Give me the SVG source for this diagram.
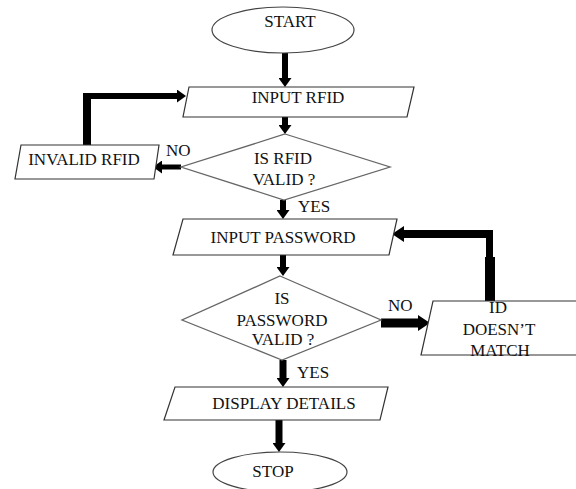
<svg xmlns="http://www.w3.org/2000/svg" width="576" height="489" viewBox="0 0 576 489">
  <style>
    .txt { font-family: "Liberation Serif", "Times New Roman", serif; font-size: 17px; fill: #111; }
    .mid { text-anchor: middle; }
    .term { fill: #fff; stroke: #444; stroke-width: 1.2; }
    .io { fill: #fff; stroke: #333; stroke-width: 1.2; }
    .dec { fill: #fff; stroke: #666; stroke-width: 1.3; }
    .flow { stroke: #000; fill: none; stroke-linecap: butt; }
  </style>
  <defs>
    <marker id="head" viewBox="0 0 9 13" refX="0" refY="6.5" markerWidth="9" markerHeight="13" markerUnits="userSpaceOnUse" orient="auto">
      <path d="M0,0 L9,6.5 L0,13 Z" fill="#000"/>
    </marker>
    <marker id="headBig" viewBox="0 0 12 16" refX="0" refY="8" markerWidth="12" markerHeight="16" markerUnits="userSpaceOnUse" orient="auto">
      <path d="M0,0 L12,8 L0,16 Z" fill="#000"/>
    </marker>
  </defs>

  <!-- connectors -->
  <g id="connectors">
    <line class="flow" x1="285" y1="53" x2="285" y2="78" stroke-width="6" marker-end="url(#head)"/>
    <line class="flow" x1="285" y1="117" x2="285" y2="125" stroke-width="6" marker-end="url(#head)"/>
    <line class="flow" x1="181" y1="167" x2="162" y2="167" stroke-width="5" marker-end="url(#head)"/>
    <line class="flow" x1="87" y1="145" x2="87" y2="93" stroke-width="8"/>
    <line class="flow" x1="83" y1="96" x2="177" y2="96" stroke-width="6" marker-end="url(#head)"/>
    <line class="flow" x1="283" y1="200" x2="283" y2="210" stroke-width="6" marker-end="url(#head)"/>
    <line class="flow" x1="283" y1="255" x2="283" y2="267" stroke-width="6" marker-end="url(#head)"/>
    <line class="flow" x1="381" y1="323" x2="418" y2="323" stroke-width="9" marker-end="url(#headBig)"/>
    <line class="flow" x1="490" y1="301" x2="490" y2="257" stroke-width="10"/>
    <line class="flow" x1="489.5" y1="258" x2="489.5" y2="230" stroke-width="7"/>
    <line class="flow" x1="493" y1="234" x2="404" y2="234" stroke-width="8" marker-end="url(#headBig)"/>
    <line class="flow" x1="283" y1="360" x2="283" y2="378" stroke-width="7" marker-end="url(#head)"/>
    <line class="flow" x1="279" y1="420" x2="279" y2="443" stroke-width="7" marker-end="url(#head)"/>
  </g>

  <g id="start">
    <ellipse class="term" cx="283" cy="30" rx="71" ry="23"/>
    <text class="txt mid" x="290" y="27">START</text>
  </g>

  <g id="input-rfid">
    <polygon class="io" points="189,87 414,87 407,117 183,117"/>
    <text class="txt mid" x="298" y="103">INPUT RFID</text>
  </g>

  <g id="rfid-valid">
    <polygon class="dec" points="285,134 390,167 284,200 181,167"/>
    <text class="txt mid" x="283" y="164">IS RFID</text>
    <text class="txt mid" x="284" y="185">VALID ?</text>
  </g>

  <g id="invalid-rfid">
    <polygon class="io" points="21,145 159,145 154,179 15,179"/>
    <text class="txt mid" x="84" y="165">INVALID RFID</text>
  </g>

  <g id="input-password">
    <polygon class="io" points="183,219 397,219 389,255 173,255"/>
    <text class="txt mid" x="283" y="243">INPUT PASSWORD</text>
  </g>

  <g id="password-valid">
    <polygon class="dec" points="280,276 381,320 282,360 182,320"/>
    <text class="txt mid" x="282" y="304">IS</text>
    <text class="txt mid" x="282" y="326">PASSWORD</text>
    <text class="txt mid" x="283" y="345">VALID ?</text>
  </g>

  <g id="id-mismatch">
    <polygon class="io" points="433,301 600,301 590,355 421,355"/>
    <text class="txt mid" x="498" y="313">ID</text>
    <text class="txt mid" x="499" y="335">DOESN’T</text>
    <text class="txt mid" x="500" y="356">MATCH</text>
  </g>

  <g id="display-details">
    <polygon class="io" points="175,387 388,387 380,420 164,420"/>
    <text class="txt mid" x="284" y="409">DISPLAY DETAILS</text>
  </g>

  <g id="stop">
    <ellipse class="term" cx="280" cy="472" rx="67" ry="20"/>
    <text class="txt mid" x="273" y="477">STOP</text>
  </g>

  <!-- branch labels -->
  <g id="labels">
    <text class="txt" x="166" y="156">NO</text>
    <text class="txt" x="298" y="212">YES</text>
    <text class="txt" x="388" y="311">NO</text>
    <text class="txt" x="297" y="378">YES</text>
  </g>
</svg>
